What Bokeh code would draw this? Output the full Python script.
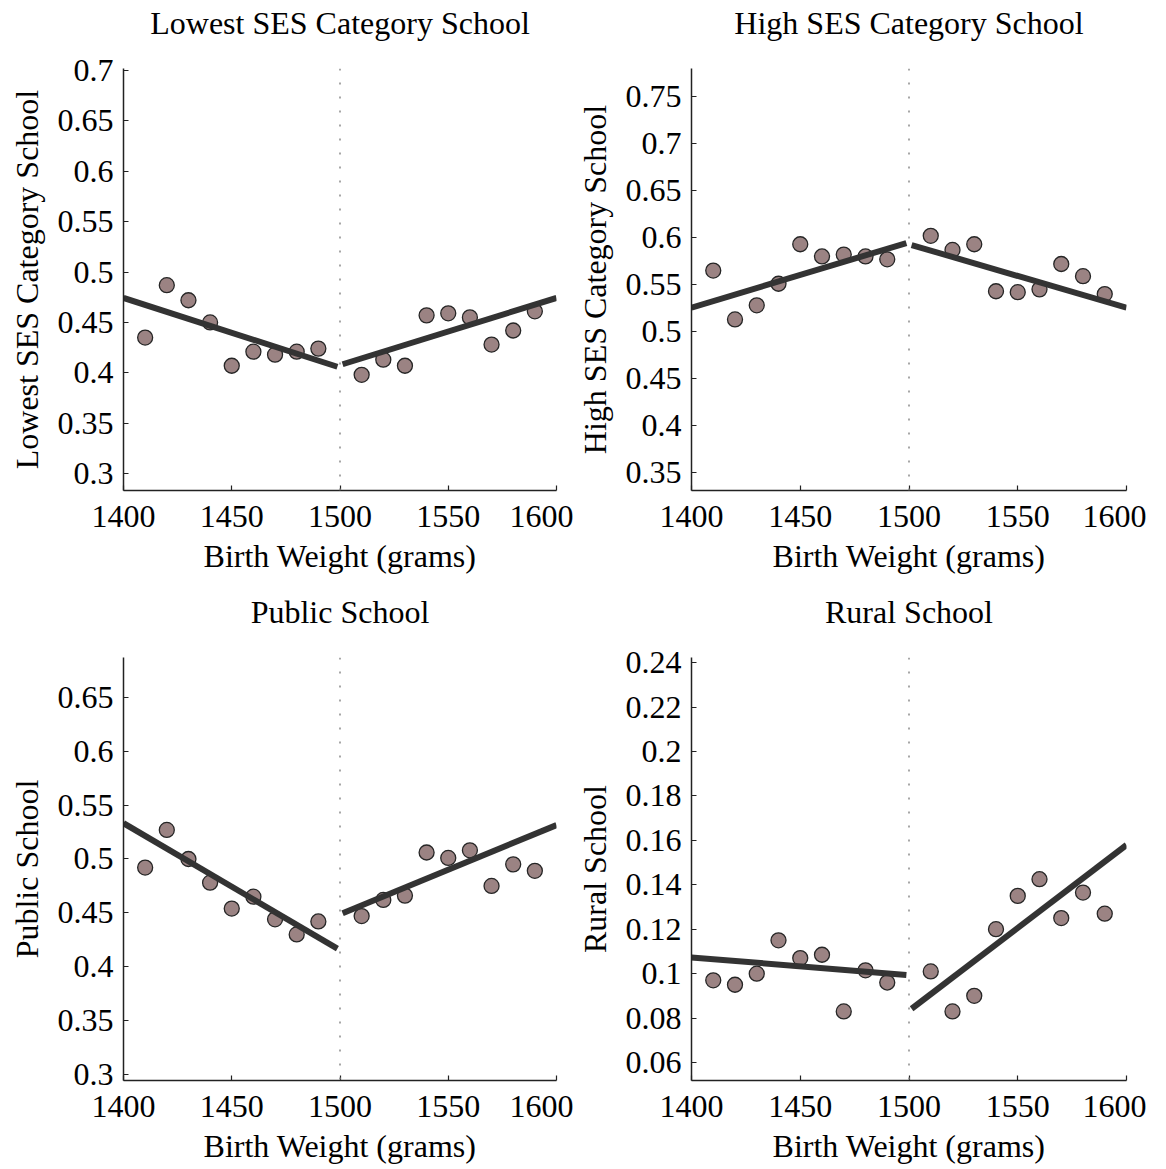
from bokeh.plotting import figure
from bokeh.layouts import column, row
from bokeh.models import Range1d, FixedTicker, Span, LinearAxis
from bokeh.embed import file_html
from bokeh.resources import INLINE

# ---------------- data ----------------
birth_weight = [1410, 1420, 1430, 1440, 1450, 1460, 1470, 1480, 1490,
                1510, 1520, 1530, 1540, 1550, 1560, 1570, 1580, 1590]

lowest_ses = [0.435, 0.487, 0.472, 0.450, 0.407, 0.421, 0.418, 0.421, 0.424,
              0.398, 0.413, 0.407, 0.457, 0.459, 0.455, 0.428, 0.442, 0.461]
high_ses = [0.565, 0.513, 0.528, 0.551, 0.593, 0.580, 0.582, 0.580, 0.577,
            0.602, 0.587, 0.593, 0.543, 0.542, 0.545, 0.572, 0.559, 0.540]
public_school = [0.492, 0.527, 0.500, 0.478, 0.454, 0.465, 0.444, 0.430, 0.442,
                 0.447, 0.462, 0.466, 0.506, 0.501, 0.508, 0.475, 0.495, 0.489]
rural_school = [0.097, 0.095, 0.100, 0.115, 0.107, 0.1085, 0.083, 0.1015, 0.096,
                0.101, 0.083, 0.090, 0.120, 0.135, 0.1425, 0.125, 0.1365, 0.127]

# fitted lines: [value at left end, value at right end]
fit_left_x = [1400, 1498.8]
fit_right_x = [1501.2, 1600]
lowest_fit_left = [0.4743, 0.4060]
lowest_fit_right = [0.4085, 0.4743]
high_fit_left = [0.5255, 0.5943]
high_fit_right = [0.5922, 0.5255]
public_fit_left = [0.5332, 0.4168]
public_fit_right = [0.4497, 0.5314]
rural_fit_left = [0.1073, 0.0994]
rural_fit_right = [0.0842, 0.1579]

cutoff = 1500

x_ticks = [1400, 1450, 1500, 1550, 1600]
x_tick_labels = ["1400", "1450", "1500", "1550", "1600"]

lowest_ticks = [0.3, 0.35, 0.4, 0.45, 0.5, 0.55, 0.6, 0.65, 0.7]
lowest_tick_labels = ["0.3", "0.35", "0.4", "0.45", "0.5", "0.55", "0.6", "0.65", "0.7"]
high_ticks = [0.35, 0.4, 0.45, 0.5, 0.55, 0.6, 0.65, 0.7, 0.75]
high_tick_labels = ["0.35", "0.4", "0.45", "0.5", "0.55", "0.6", "0.65", "0.7", "0.75"]
public_ticks = [0.3, 0.35, 0.4, 0.45, 0.5, 0.55, 0.6, 0.65]
public_tick_labels = ["0.3", "0.35", "0.4", "0.45", "0.5", "0.55", "0.6", "0.65"]
rural_ticks = [0.06, 0.08, 0.1, 0.12, 0.14, 0.16, 0.18, 0.2, 0.22, 0.24]
rural_tick_labels = ["0.06", "0.08", "0.1", "0.12", "0.14", "0.16", "0.18", "0.2", "0.22", "0.24"]

titles = ["Lowest SES Category School", "High SES Category School",
          "Public School", "Rural School"]
x_label = "Birth Weight (grams)"

y_ranges = [(0.2832, 0.7020), (0.3310, 0.7800), (0.2944, 0.6870), (0.0519, 0.2423)]

# ---------------- styling ----------------
FONT = "Liberation Serif"
FS = "32px"
LINE_COLOR = "#333333"
DOT_FILL = "#9b8383"
DOT_LINE = "#262626"


def make_panel(title, values, left_fit, right_fit, ticks, tick_labels, yr,
               width, height, bl, br, bt, bb):
    p = figure(width=width, height=height, output_backend="svg",
               toolbar_location=None, x_range=Range1d(1400, 1600),
               y_range=Range1d(*yr),
               min_border_left=bl, min_border_right=br,
               min_border_top=bt, min_border_bottom=bb)
    p.outline_line_color = None
    p.grid.visible = False
    p.background_fill_color = "white"
    p.border_fill_color = "white"

    xa = p.below[0]
    ya = p.left[0]
    for ax in (xa, ya):
        ax.axis_line_color = "#222222"
        ax.axis_line_width = 1.5
        ax.major_tick_in = 5
        ax.major_tick_out = 0
        ax.major_tick_line_color = "#222222"
        ax.major_tick_line_width = 1.2
        ax.minor_tick_line_color = None
        ax.major_label_text_font = FONT
        ax.major_label_text_font_size = FS
        ax.major_label_text_color = "#000000"
        ax.axis_label_text_font = FONT
        ax.axis_label_text_font_size = FS
        ax.axis_label_text_font_style = "normal"
        ax.axis_label_text_color = "#000000"

    xa.ticker = FixedTicker(ticks=x_ticks)
    xa.major_label_overrides = dict(zip(x_ticks, x_tick_labels))
    xa.axis_label = x_label
    xa.major_label_standoff = 15
    xa.axis_label_standoff = 8

    ya.ticker = FixedTicker(ticks=ticks)
    ya.major_label_overrides = dict(zip(ticks, tick_labels))
    ya.axis_label = title
    ya.major_label_standoff = 10
    ya.axis_label_standoff = 10

    # panel title drawn as the label of a bare axis above the frame
    top = LinearAxis(ticker=FixedTicker(ticks=[]), axis_label=title,
                     axis_line_color=None, major_tick_line_color=None,
                     minor_tick_line_color=None, major_tick_in=0,
                     major_tick_out=0, minor_tick_in=0, minor_tick_out=0,
                     major_label_standoff=0, axis_label_standoff=28,
                     axis_label_text_font=FONT, axis_label_text_font_size=FS,
                     axis_label_text_font_style="normal",
                     axis_label_text_color="#000000")
    p.add_layout(top, "above")

    p.add_layout(Span(location=cutoff, dimension="height", line_color="#8a8a8a",
                      line_width=1.5, line_dash="2 12"))

    p.scatter(birth_weight, values, size=15, marker="circle",
              fill_color=DOT_FILL, line_color=DOT_LINE, line_width=1.3)
    p.line(fit_left_x, left_fit, line_color=LINE_COLOR, line_width=6)
    p.line(fit_right_x, right_fit, line_color=LINE_COLOR, line_width=6)
    return p


p1 = make_panel(titles[0], lowest_ses, lowest_fit_left, lowest_fit_right,
                lowest_ticks, lowest_tick_labels, y_ranges[0],
                573, 590, 123, 17, 68, 100)
p2 = make_panel(titles[1], high_ses, high_fit_left, high_fit_right,
                high_ticks, high_tick_labels, y_ranges[1],
                573, 590, 118, 20, 68, 100)
p3 = make_panel(titles[2], public_school, public_fit_left, public_fit_right,
                public_ticks, public_tick_labels, y_ranges[2],
                573, 576, 123, 17, 67, 86)
p4 = make_panel(titles[3], rural_school, rural_fit_left, rural_fit_right,
                rural_ticks, rural_tick_labels, y_ranges[3],
                573, 576, 118, 20, 67, 86)

layout = column(row(p1, p2), row(p3, p4))

open("out.html", "w").write(file_html(layout, INLINE))
